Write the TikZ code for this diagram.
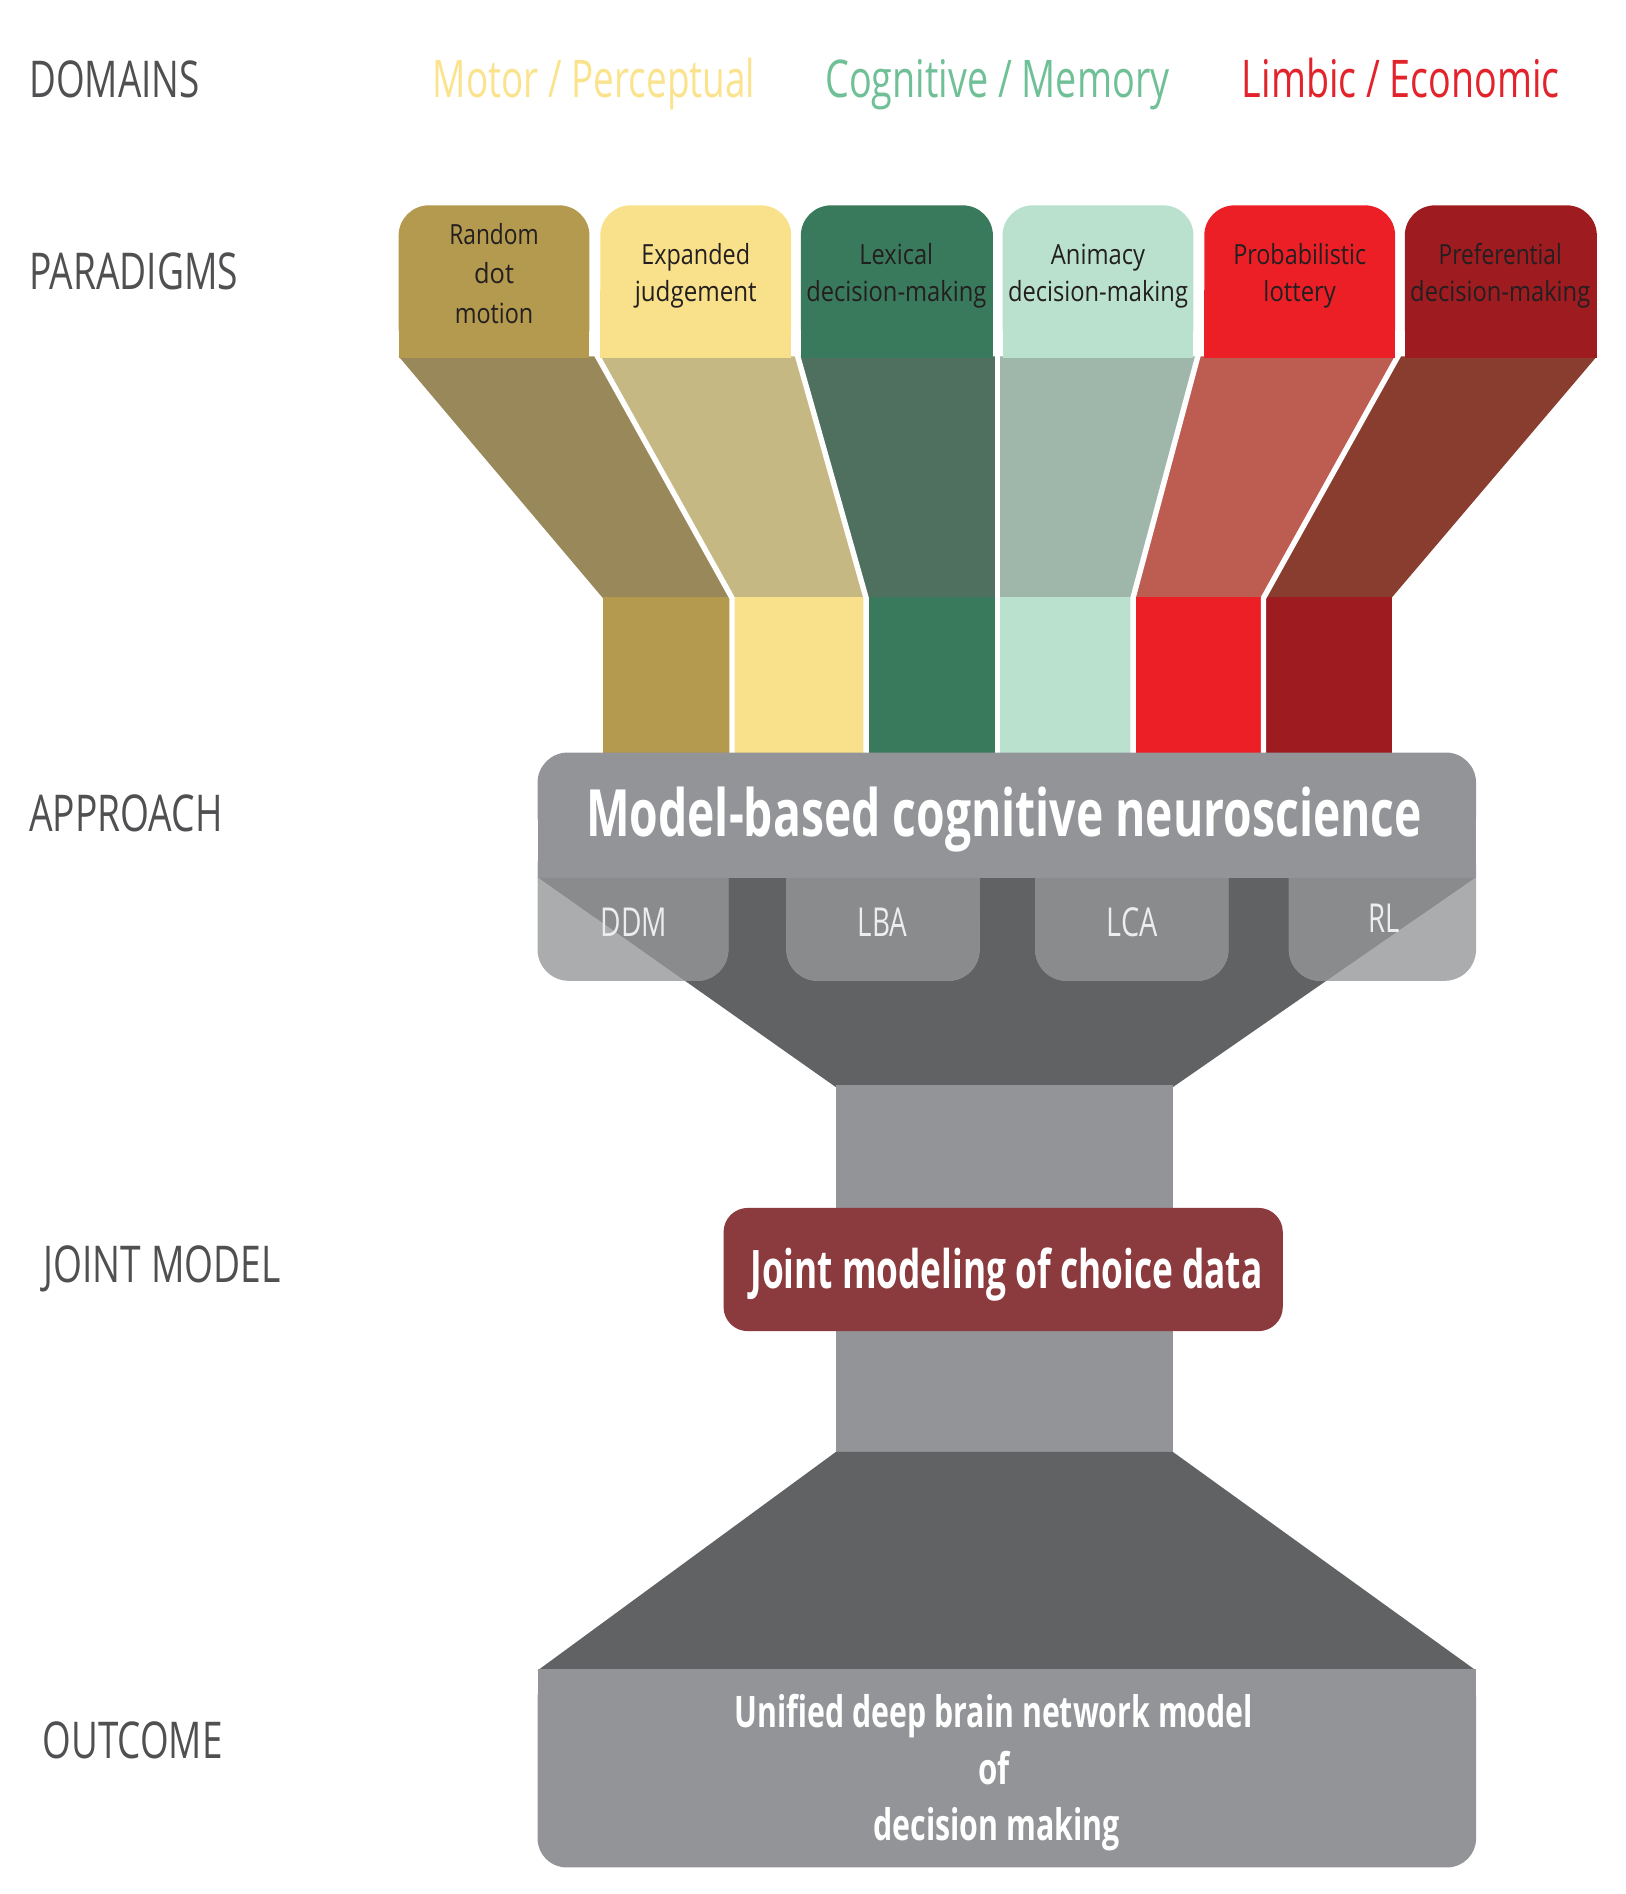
\documentclass[tikz,border=0pt]{standalone}
\usepackage{fontspec}
\setmainfont{Open Sans}
\usepackage{graphicx}
\newcommand\sx[2]{\resizebox{#1}{\height}{#2}}
\definecolor{labgray}{HTML}{505052}
\definecolor{dmotor}{HTML}{FBE38E}
\definecolor{dcog}{HTML}{6FC096}
\definecolor{dlimb}{HTML}{E3232B}
\definecolor{cA}{HTML}{B39A4F}\definecolor{sA}{HTML}{99885A}
\definecolor{cB}{HTML}{F9E08A}\definecolor{sB}{HTML}{C6B883}
\definecolor{cC}{HTML}{3A7A5C}\definecolor{sC}{HTML}{50705F}
\definecolor{cD}{HTML}{B9E1CE}\definecolor{sD}{HTML}{9EB7AA}
\definecolor{cE}{HTML}{EC1F27}\definecolor{sE}{HTML}{BD5C51}
\definecolor{cF}{HTML}{9E1B20}\definecolor{sF}{HTML}{883D2F}
\definecolor{gmain}{HTML}{929497}
\definecolor{gdark}{HTML}{616264}
\definecolor{gtab}{HTML}{8A8B8D}
\definecolor{glight}{HTML}{ABACAE}
\definecolor{jred}{HTML}{8B3A3E}
\definecolor{partext}{HTML}{231F20}
\definecolor{tabtext}{HTML}{EDEDED}
\begin{document}
\begin{tikzpicture}[x=1pt,y=-1pt,
  lab/.style={anchor=base west,inner sep=0pt,text=labgray,font=\fontsize{42}{50}\selectfont},
  dom/.style={anchor=base west,inner sep=0pt,font=\fontsize{43}{50}\selectfont},
  par/.style={anchor=base,inner sep=0pt,text=partext,font=\fontsize{23}{30}\selectfont},
  tabt/.style={anchor=base west,inner sep=0pt,text=tabtext,font=\fontsize{33}{40}\selectfont},
  big/.style={anchor=base west,inner sep=0pt,text=white,font=\bfseries\fontsize{54}{60}\selectfont},
  midtext/.style={anchor=base west,inner sep=0pt,text=white,font=\bfseries\fontsize{44}{50}\selectfont},
  outtext/.style={anchor=base west,inner sep=0pt,text=white,font=\bfseries\fontsize{36}{44}\selectfont},
  sepline/.style={white,line width=4.5pt}]
\useasboundingbox (0,0) rectangle (1346,1568);

% ---- slanted bands
\fill[sA] (330,295) -- (492,295) -- (606,495) -- (499,495) -- cycle;
\fill[sB] (492,295) -- (659,295) -- (717,495) -- (606,495) -- cycle;
\fill[sC] (659,295) -- (826,295) -- (826,495) -- (717,495) -- cycle;
\fill[sD] (826,295) -- (993,295) -- (938,495) -- (826,495) -- cycle;
\fill[sE] (993,295) -- (1160,295) -- (1046,495) -- (938,495) -- cycle;
\fill[sF] (1160,295) -- (1322,295) -- (1152,495) -- (1046,495) -- cycle;
% ---- vertical bars
\fill[cA] (499,494) rectangle (606,626);
\fill[cB] (606,494) rectangle (717,626);
\fill[cC] (717,494) rectangle (826,626);
\fill[cD] (826,494) rectangle (938,626);
\fill[cE] (938,494) rectangle (1046,626);
\fill[cF] (1046,494) rectangle (1152,626);
% ---- white separators
\foreach \t/\b in {492/606,659/717,826/826,993/938,1160/1046}
  \draw[sepline] (\t,290) -- (\b,495) -- (\b,628);

% ---- paradigm boxes
\foreach \l/\r/\c in {330/488/cA,497/655/cB,663/822/cC,830/988/cD,997/1155/cE,1163/1322/cF}{
  \fill[\c,rounded corners=25pt] (\l,170) rectangle (\r,296);
  \fill[\c] (\l,240) rectangle (\r,296);
}

% ---- approach block
\fill[gdark] (445,726) -- (1222,726) -- (971,900) -- (692,900) -- cycle;
\foreach \l/\r in {445/603,651/811,857/1017,1067/1222}{
  \fill[glight,rounded corners=26pt] (\l,690) rectangle (\r,812);
  \fill[glight] (\l,690) rectangle (\r,760);
}
\begin{scope}
  \clip (445,726) -- (1222,726) -- (971,900) -- (692,900) -- cycle;
  \foreach \l/\r in {445/603,651/811,857/1017,1067/1222}{
    \fill[gtab,rounded corners=26pt] (\l,690) rectangle (\r,812);
    \fill[gtab] (\l,690) rectangle (\r,760);
  }
\end{scope}
\fill[gmain,rounded corners=25pt] (445,623) rectangle (1222,700);
\fill[gmain] (445,660) rectangle (1222,727);

% ---- stem, joint, lower funnel, outcome
\fill[gmain] (692,898) rectangle (971,1204);
\fill[gdark] (692,1202) -- (971,1202) -- (1222,1383) -- (445,1383) -- cycle;
\fill[gmain,rounded corners=24pt] (445,1382) rectangle (1222,1546);
\fill[gmain] (445,1382) rectangle (1222,1450);
\fill[jred,rounded corners=20pt] (599,1000) rectangle (1062,1102);

% ---- left labels
\node[lab] (lDom) at (24,81) {\sx{141pt}{DOMAINS}};
\node[lab] (lPar) at (24,240) {\sx{173pt}{PARADIGMS}};
\node[lab] (lApp) at (24,688) {\sx{160pt}{APPROACH}};
\node[lab] (lJoi) at (36,1062) {\sx{196pt}{JOINT MODEL}};
\node[lab] (lOut) at (35,1456) {\sx{149pt}{OUTCOME}};

% ---- domains
\node[dom,text=dmotor] (dMot) at (358,81) {\sx{267pt}{Motor / Perceptual}};
\node[dom,text=dcog] (dCog) at (683,81) {\sx{285pt}{Cognitive / Memory}};
\node[dom,text=dlimb] (dLim) at (1028,81) {\sx{263pt}{Limbic / Economic}};

% ---- paradigm texts
\node[par] (p1a) at (409,202.5) {\sx{74pt}{Random}};
\node[par] (p1b) at (409,235) {\sx{33pt}{dot}};
\node[par] (p1c) at (409,267.5) {\sx{65pt}{motion}};
\node[par] (p2a) at (576,219) {\sx{90pt}{Expanded}};
\node[par] (p2b) at (576,250) {\sx{101pt}{judgement}};
\node[par] (p3a) at (742,219) {\sx{61pt}{Lexical}};
\node[par] (p3b) at (742,250) {\sx{149pt}{decision-making}};
\node[par] (p4a) at (909,219) {\sx{78pt}{Animacy}};
\node[par] (p4b) at (909,250) {\sx{149pt}{decision-making}};
\node[par] (p5a) at (1076,219) {\sx{110pt}{Probabilistic}};
\node[par] (p5b) at (1076,250) {\sx{60pt}{lottery}};
\node[par] (p6a) at (1242,219) {\sx{102pt}{Preferential}};
\node[par] (p6b) at (1242,250) {\sx{149pt}{decision-making}};

% ---- approach texts
\node[big] (mbcn) at (485,692.5) {\sx{692pt}{Model-based cognitive neuroscience}};
\node[tabt] (tDDM) at (497,775) {\sx{55pt}{DDM}};
\node[tabt] (tLBA) at (710,775) {\sx{41pt}{LBA}};
\node[tabt] (tLCA) at (916,775) {\sx{42pt}{LCA}};
\node[tabt] (tRL) at (1133,772) {\sx{26pt}{RL}};

% ---- joint and outcome texts
\node[midtext] (joint) at (621,1066.5) {\sx{424pt}{Joint modeling of choice data}};
\node[outtext] (o1) at (608,1430) {\sx{429pt}{Unified deep brain network model}};
\node[outtext] (o2) at (810,1477) {\sx{26pt}{of}};
\node[outtext] (o3) at (723,1524) {\sx{204pt}{decision making}};
\end{tikzpicture}
\end{document}
